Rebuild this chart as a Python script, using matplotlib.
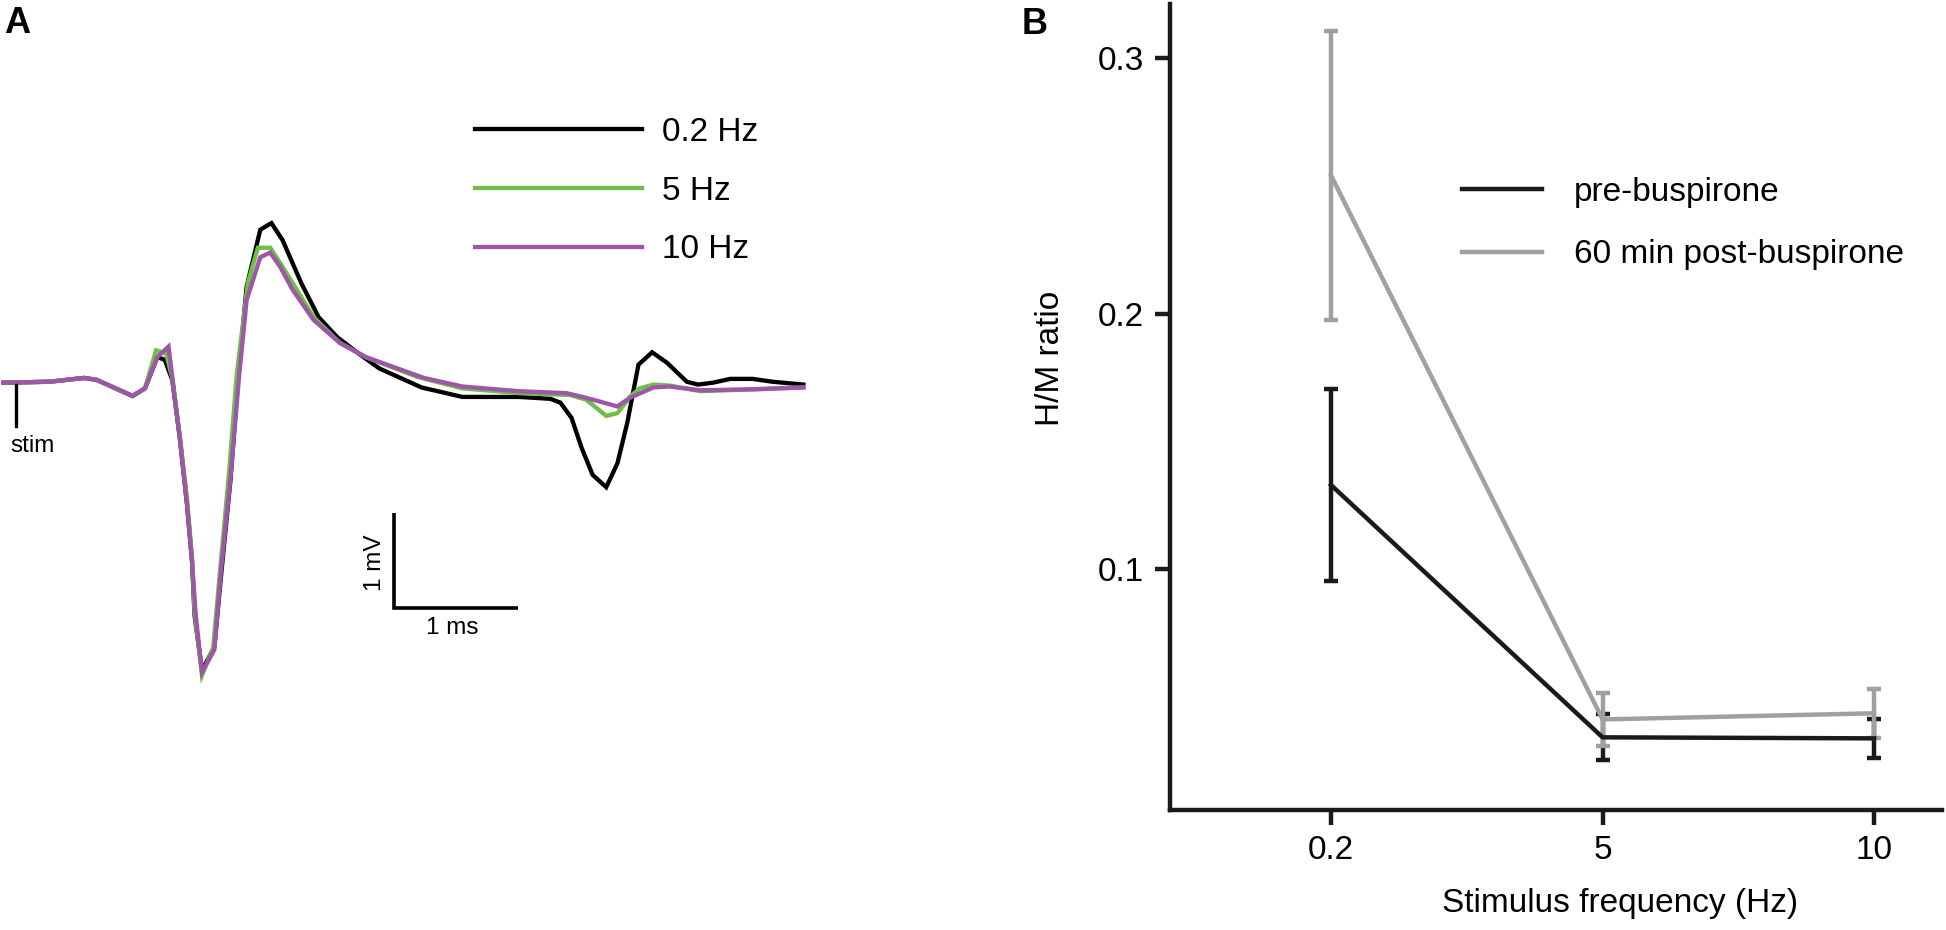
import matplotlib
matplotlib.use("Agg")
import matplotlib.pyplot as plt
from matplotlib.lines import Line2D
import numpy as np

plt.rcParams['font.family'] = ['Liberation Sans', 'DejaVu Sans']

# ---- panel A: averaged traces (time in ms from stimulus, voltage in mV) ----
t_common = [-0.10, 0.27, 0.55, 0.65, 0.94, 1.04]
v_common = [0.00, 0.01, 0.05, 0.03, -0.14, -0.06]

t_02 = [1.14, 1.20, 1.26, 1.32, 1.38, 1.42, 1.44, 1.50, 1.60, 1.65, 1.73, 1.79,
        1.86, 1.97, 2.06, 2.15, 2.30, 2.44, 2.59, 2.76, 2.93, 3.27, 3.60, 4.06,
        4.31, 4.39, 4.48, 4.56, 4.65, 4.76, 4.85, 4.93, 5.02, 5.13, 5.25, 5.41,
        5.50, 5.62, 5.76, 5.94, 6.10, 6.35]
v_02 = [0.27, 0.24, 0.03, -0.57, -1.29, -1.89, -2.45, -3.03, -2.78, -2.08, -1.02, 0.03,
        1.01, 1.61, 1.68, 1.50, 1.05, 0.69, 0.48, 0.31, 0.15, -0.05, -0.15, -0.15,
        -0.17, -0.21, -0.37, -0.68, -0.97, -1.10, -0.85, -0.42, 0.19, 0.32, 0.21, 0.01,
        -0.02, 0.00, 0.04, 0.04, 0.01, -0.02]

t_5 = [1.13, 1.21, 1.26, 1.32, 1.38, 1.42, 1.44, 1.50, 1.59, 1.65, 1.72, 1.78,
       1.87, 1.95, 2.05, 2.13, 2.23, 2.40, 2.61, 2.82, 3.24, 3.60, 4.06, 4.47,
       4.60, 4.76, 4.85, 4.95, 5.03, 5.14, 5.27, 5.52, 5.94, 6.35]
v_5 = [0.34, 0.31, 0.05, -0.55, -1.23, -1.85, -2.41, -3.08, -2.79, -1.92, -0.92, 0.08,
       1.05, 1.42, 1.42, 1.26, 1.05, 0.69, 0.42, 0.27, 0.06, -0.06, -0.11, -0.13,
       -0.18, -0.35, -0.32, -0.15, -0.06, -0.02, -0.03, -0.09, -0.07, -0.05]

t_10 = [1.14, 1.23, 1.32, 1.38, 1.42, 1.45, 1.50, 1.60, 1.65, 1.73, 1.80, 1.86,
        1.97, 2.05, 2.13, 2.23, 2.40, 2.61, 2.82, 3.29, 3.60, 4.06, 4.44, 4.60,
        4.85, 4.95, 5.14, 5.27, 5.52, 5.94, 6.35]
v_10 = [0.27, 0.38, -0.57, -1.29, -1.89, -2.45, -3.05, -2.81, -2.02, -1.00, 0.08, 0.87,
        1.32, 1.37, 1.22, 0.98, 0.66, 0.42, 0.27, 0.05, -0.04, -0.09, -0.11, -0.16,
        -0.25, -0.16, -0.05, -0.04, -0.08, -0.07, -0.05]

trace_labels = ["0.2 Hz", "5 Hz", "10 Hz"]
trace_colors = ["#000000", "#6cbf47", "#9e56a8"]

# ---- panel B: H/M ratio ----
freqs = ["0.2", "5", "10"]
pre_mean = [0.133, 0.0344, 0.0340]
pre_err = [0.0375, 0.0090, 0.0076]
post_mean = [0.254, 0.0414, 0.0438]
post_err = [0.0565, 0.0104, 0.0095]
group_labels = ["pre-buspirone", "60 min post-buspirone"]
group_colors = ["#1a1a1a", "#a0a0a0"]

W, H = 1946, 930
fig = plt.figure(figsize=(W / 100, H / 100), dpi=100)


def fx(px):
    return px / W


def fy(py):
    return 1 - py / H


# panel A
axA = fig.add_axes([0, fy(700), fx(820), 700 / H])
axA.set_xlim(-0.129, 6.484)
axA.set_ylim(-3.34, 4.028)
axA.axis("off")

traces = [(t_02, v_02), (t_5, v_5), (t_10, v_10)]
for (tt, vv), lab, col in zip(traces, trace_labels, trace_colors):
    axA.plot(t_common + tt, v_common + vv, color=col, lw=3.1, label=lab,
             solid_joinstyle="miter")

# stimulus marker
axA.plot([0, 0], [-0.02, -0.46], color="black", lw=2.4)
axA.text(0.13, -0.67, "stim", fontsize=17.5, ha="center", va="center")

# scale bars: 1 mV, 1 ms
sb_t, sb_v = 3.048, -2.37
axA.plot([sb_t, sb_t, sb_t + 1], [sb_v + 1, sb_v, sb_v], color="black", lw=2.6,
         solid_joinstyle="miter", solid_capstyle="butt")
axA.text(sb_t - 0.15, sb_v + 0.47, "1 mV", fontsize=17.5, rotation=90,
         ha="center", va="center")
axA.text(sb_t + 0.47, sb_v - 0.21, "1 ms", fontsize=17.5, ha="center", va="center")

axA.legend(loc="upper left", bbox_to_anchor=(fx(475), fy(117)),
           bbox_transform=fig.transFigure, frameon=False, fontsize=24,
           handlelength=5.0, handletextpad=0.6, labelspacing=0.83, borderpad=0,
           borderaxespad=0)

# panel B
axB = fig.add_axes([fx(1170), fy(810), fx(1942 - 1170), 806 / H])
x = np.arange(len(freqs))
for m, e, col in zip([pre_mean, post_mean], [pre_err, post_err], group_colors):
    axB.errorbar(x, m, yerr=e, color=col, lw=3.2, capsize=5,
                 capthick=3.2, elinewidth=3.2)
axB.set_xlim(-0.593, 2.25)
axB.set_ylim(0.006, 0.321)
axB.set_xticks(x)
axB.set_xticklabels(freqs)
axB.set_yticks([0.1, 0.2, 0.3])
axB.set_yticklabels(["0.1", "0.2", "0.3"])
for s in ["top", "right"]:
    axB.spines[s].set_visible(False)
for s in ["left", "bottom"]:
    axB.spines[s].set_linewidth(3.2)
    axB.spines[s].set_color("#1a1a1a")
axB.tick_params(axis="both", length=11, width=3.2, labelsize=24, color="#1a1a1a")
axB.tick_params(axis="y", pad=8)
axB.tick_params(axis="x", pad=7)
axB.set_xlabel("Stimulus frequency (Hz)", fontsize=24)
axB.set_ylabel("H/M ratio", fontsize=24)
axB.xaxis.set_label_coords((1620 - 1170) / 772, -(888 - 810) / 806)
axB.yaxis.set_label_coords(-(1170 - 1066) / 772, (810 - 358) / 806)
handles = [Line2D([], [], color=c, lw=3.2) for c in group_colors]
axB.legend(handles, group_labels, loc="upper left",
           bbox_to_anchor=(fx(1462), fy(177)),
           bbox_transform=fig.transFigure, frameon=False, fontsize=24,
           handlelength=2.4, handletextpad=0.95, labelspacing=0.94, borderpad=0,
           borderaxespad=0)

# panel letters
fig.text(fx(4), fy(6), "A", fontsize=26, fontweight="bold", ha="left", va="top")
fig.text(fx(1022), fy(7), "B", fontsize=26, fontweight="bold", ha="left", va="top")

fig.savefig("out.png", dpi=100)
